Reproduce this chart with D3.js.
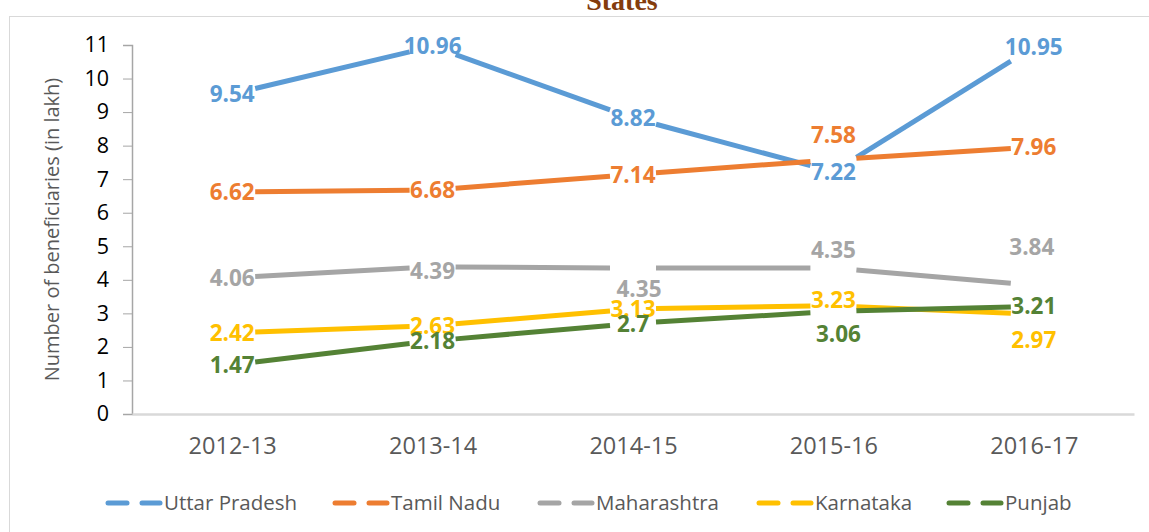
<!DOCTYPE html>
<html>
<head>
<meta charset="utf-8">
<script src="https://cdn.jsdelivr.net/npm/d3@7"></script>
<style>
  body { margin: 0; background: #fff; }
  text { font-family: "Open Sans", sans-serif; }
</style>
</head>
<body>
<svg id="line-chart" width="1149" height="532"></svg>
<script>
// data
var years = ["2012-13", "2013-14", "2014-15", "2015-16", "2016-17"];
var states = ["Uttar Pradesh", "Tamil Nadu", "Maharashtra", "Karnataka", "Punjab"];
var uttarPradesh = [9.54, 10.96, 8.82, 7.22, 10.95];
var tamilNadu = [6.62, 6.68, 7.14, 7.58, 7.96];
var maharashtra = [4.06, 4.39, 4.35, 4.35, 3.84];
var karnataka = [2.42, 2.63, 3.13, 3.23, 2.97];
var punjab = [1.47, 2.18, 2.7, 3.06, 3.21];
var yTicks = [0, 1, 2, 3, 4, 5, 6, 7, 8, 9, 10, 11];

var colors = ["#5b9bd5", "#ed7d31", "#a5a5a5", "#ffc000", "#548235"];

// label nudges (px) where the labels were moved off the point in the original
var labelShift = {
  "Tamil Nadu": [[0, 0], [0, 0], [0, 0], [0, -25], [0, 0]],
  "Maharashtra": [[0, 0], [0, 4], [6, 21], [0, -18], [-2, -38]],
  "Karnataka": [[0, 0], [0, 0], [0, 0], [0, -6], [0, 26]],
  "Punjab": [[0, 0], [0, 0], [0, 0], [5, 23], [0, 0]]
};

var series = [uttarPradesh, tamilNadu, maharashtra, karnataka, punjab].map(function(v, i) {
  return { name: states[i], color: colors[i], values: v };
});

var margin = { top: 45, right: 15, bottom: 118, left: 132 };

var svg = d3.select("#line-chart"),
    width = +svg.attr("width") - margin.left - margin.right,
    height = +svg.attr("height") - margin.top - margin.bottom;

// outer chart frame
svg.append("rect")
    .attr("x", 9.5)
    .attr("y", 16.5)
    .attr("width", 1160)
    .attr("height", 540)
    .attr("fill", "none")
    .attr("stroke", "#d9d9d9");

svg.append("text")
    .attr("x", 622)
    .attr("y", 10)
    .attr("text-anchor", "middle")
    .attr("fill", "#843c0c")
    .style("font-family", "'Liberation Serif', serif")
    .style("font-weight", "bold")
    .style("font-size", "28px")
    .text("States");

var g = svg.append("g").attr("transform", "translate(" + margin.left + "," + margin.top + ")");

var x = d3.scalePoint()
    .domain(years)
    .range([0, width])
    .padding(0.5);

var y = d3.scaleLinear()
    .domain([0, 11])
    .range([height, 0]);

// y axis
var yAxis = g.append("g")
    .call(d3.axisLeft(y).tickValues(yTicks).tickSize(9).tickPadding(14));
yAxis.select(".domain").attr("stroke", "#a6a6a6").attr("stroke-width", 1.5);
yAxis.selectAll(".tick line").attr("stroke", "#a6a6a6");
yAxis.selectAll(".tick text")
    .attr("fill", "#000")
    .style("font-size", "21.5px")
    .style("font-family", "'Open Sans', sans-serif");

// x axis
var xAxis = g.append("g")
    .attr("transform", "translate(0," + height + ")")
    .call(d3.axisBottom(x).tickSize(0).tickPadding(23));
xAxis.select(".domain").attr("stroke", "#d9d9d9").attr("stroke-width", 2.5);
xAxis.selectAll(".tick text")
    .attr("fill", "#595959")
    .style("font-size", "23.5px")
    .style("font-family", "'Open Sans', sans-serif");

g.append("text")
    .attr("transform", "translate(-73," + (height / 2) + ") rotate(-90)")
    .attr("text-anchor", "middle")
    .attr("fill", "#595959")
    .style("font-size", "20px")
    .text("Number of beneficiaries (in lakh)");

// lines, broken around each point like the original
var gap = 23;
var segs = [];
series.forEach(function(s) {
  for (var i = 0; i < s.values.length - 1; i++) {
    var x0 = x(years[i]), x1 = x(years[i + 1]);
    var y0 = y(s.values[i]), y1 = y(s.values[i + 1]);
    var t0 = gap / (x1 - x0), t1 = 1 - t0;
    segs.push({
      color: s.color,
      x1: x0 + (x1 - x0) * t0, y1: y0 + (y1 - y0) * t0,
      x2: x0 + (x1 - x0) * t1, y2: y0 + (y1 - y0) * t1
    });
  }
});

g.append("g")
  .selectAll("line")
  .data(segs)
  .enter().append("line")
    .attr("x1", function(d) { return d.x1; })
    .attr("y1", function(d) { return d.y1; })
    .attr("x2", function(d) { return d.x2; })
    .attr("y2", function(d) { return d.y2; })
    .attr("stroke", function(d) { return d.color; })
    .attr("stroke-width", 5);

// data labels
var labels = [];
series.forEach(function(s) {
  s.values.forEach(function(v, i) {
    var sh = labelShift[s.name] ? labelShift[s.name][i] : [0, 0];
    labels.push({ color: s.color, value: v, x: x(years[i]) + sh[0], y: y(v) + sh[1] });
  });
});

g.append("g")
  .selectAll("text")
  .data(labels)
  .enter().append("text")
    .attr("x", function(d) { return d.x; })
    .attr("y", function(d) { return d.y; })
    .attr("dy", "0.36em")
    .attr("text-anchor", "middle")
    .attr("fill", function(d) { return d.color; })
    .style("font-size", "22.5px")
    .style("font-weight", "bold")
    .text(function(d) { return d.value; });

// legend
var legendX = [106, 333, 538, 757, 947];
var legend = svg.append("g")
  .selectAll("g")
  .data(series)
  .enter().append("g")
    .attr("transform", function(d, i) { return "translate(" + legendX[i] + ",503)"; });

legend.append("line")
    .attr("x1", 2).attr("x2", 21)
    .attr("stroke", function(d) { return d.color; })
    .attr("stroke-width", 5)
    .attr("stroke-linecap", "round");

legend.append("line")
    .attr("x1", 36).attr("x2", 54)
    .attr("stroke", function(d) { return d.color; })
    .attr("stroke-width", 5)
    .attr("stroke-linecap", "round");

legend.append("text")
    .attr("x", 58)
    .attr("dy", "0.35em")
    .attr("fill", "#595959")
    .style("font-size", "20.5px")
    .text(function(d) { return d.name; });
</script>
</body>
</html>
